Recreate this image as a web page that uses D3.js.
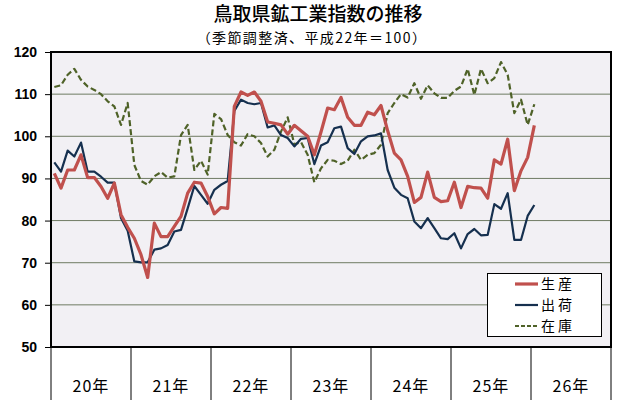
<!DOCTYPE html>
<html>
<head>
<meta charset="utf-8">
<script src="https://cdn.jsdelivr.net/npm/d3@7"></script>
<style>
  html, body { margin: 0; padding: 0; background: #ffffff; }
  svg { display: block; }
</style>
</head>
<body>
<svg id="chart" width="630" height="400"></svg>
<script>
// ---- data ----
const title = "鳥取県鉱工業指数の推移";
const subtitle = "（季節調整済、平成22年＝100）";
const years = ["20年", "21年", "22年", "23年", "24年", "25年", "26年"];
const yTicks = [50, 60, 70, 80, 90, 100, 110, 120];
const seriesNames = ["生産", "出荷", "在庫"];

// monthly values, Jan 20年 .. Jan 26年
const production = [
  91.2, 87.7, 92.0, 92.0, 95.6, 90.2, 90.2, 88.1, 85.3, 88.9, 81.4, 78.4,
  75.8, 71.9, 66.5, 79.4, 76.2, 76.2, 78.6, 81.0, 86.5, 89.1, 88.9, 85.7,
  81.6, 83.1, 82.9, 107.1, 110.5, 109.7, 110.5, 108.3, 103.4, 103.1, 102.7, 100.5,
  102.6, 101.3, 100.0, 95.6, 101.0, 106.7, 106.3, 109.2, 104.5, 102.6, 102.6, 105.7,
  105.1, 107.3, 101.3, 96.0, 94.4, 90.5, 84.3, 85.5, 91.5, 85.5, 84.5, 84.7,
  89.1, 83.1, 88.1, 87.8, 87.7, 85.3, 94.4, 93.4, 99.3, 87.1, 91.8, 95.0,
  102.6
];
const shipments = [
  93.8, 91.6, 96.6, 95.2, 98.5, 91.6, 91.6, 90.4, 89.0, 89.0, 80.6, 77.6,
  70.3, 70.1, 70.1, 73.1, 73.4, 74.2, 77.4, 77.8, 82.9, 88.2, 86.1, 84.0,
  87.3, 88.5, 89.4, 106.0, 108.7, 107.9, 107.6, 107.9, 102.1, 102.6, 100.3, 99.6,
  97.6, 99.4, 99.6, 93.4, 97.8, 98.6, 101.9, 102.3, 97.2, 95.8, 98.8, 100.0,
  100.2, 100.7, 92.0, 87.8, 86.1, 85.3, 79.8, 78.2, 80.6, 78.2, 75.8, 75.6,
  77.0, 73.4, 76.8, 78.0, 76.5, 76.6, 83.9, 82.8, 86.5, 75.4, 75.4, 81.1,
  83.7
];
const inventory = [
  111.7, 112.1, 114.6, 116.0, 113.4, 111.8, 111.0, 110.0, 108.3, 107.1, 102.7, 107.9,
  93.2, 89.4, 88.5, 90.5, 91.5, 90.2, 90.5, 100.3, 102.7, 92.0, 94.2, 90.9,
  105.3, 104.1, 100.3, 98.6, 97.8, 100.5, 100.0, 98.4, 95.2, 96.8, 101.1, 104.5,
  98.1, 98.6, 95.6, 89.1, 92.4, 94.4, 94.2, 93.4, 94.2, 96.8, 94.4, 95.6,
  96.0, 98.0, 105.5, 107.9, 110.0, 109.2, 112.6, 108.9, 112.1, 110.2, 109.1, 109.1,
  110.8, 111.8, 116.0, 109.8, 116.0, 112.6, 113.8, 117.6, 114.6, 105.5, 108.7, 102.7,
  107.6
];

// ---- layout ----
const svg = d3.select("#chart");
const L = 51, R = 611, T = 52, B = 347;
const jpFont = "'Noto Sans CJK JP', 'Noto Sans', sans-serif";

// month categories (12 per year label)
const months = [];
years.forEach(y => { for (let m = 1; m <= 12; m++) months.push(y + m + "月"); });

const x = d3.scaleBand().domain(months).range([L, R]).padding(0);
const xYear = d3.scaleBand().domain(years).range([L, R]).padding(0);
const y = d3.scaleLinear().domain([50, 120]).range([B, T]);
const cx = i => x(months[i]) + x.bandwidth() / 2;

// plot background
svg.append("rect").attr("x", L).attr("y", T).attr("width", R - L).attr("height", B - T)
  .attr("fill", "#f2f0f4");

// gridlines
svg.append("g").selectAll("line").data(yTicks.filter(v => v > 50 && v < 120)).join("line")
  .attr("x1", L).attr("x2", R)
  .attr("y1", d => y(d)).attr("y2", d => y(d))
  .attr("stroke", "#6f7b63").attr("stroke-width", 1);

// y axis
const yAxis = d3.axisLeft(y).tickValues(yTicks).tickSize(6).tickPadding(8).tickFormat(d3.format("d"));
const gy = svg.append("g").attr("transform", `translate(${L},0)`).call(yAxis);
gy.select(".domain").remove();
gy.selectAll(".tick line").attr("stroke", "#000").attr("stroke-width", 1);
gy.selectAll(".tick text").attr("fill", "#000")
  .attr("font-family", "'Liberation Sans', Arial, sans-serif")
  .attr("font-weight", "bold").attr("font-size", 14);

// x axis: year groups with dividers
const gx = svg.append("g");
const boundaries = years.map(d => xYear(d)).concat([R]);
gx.selectAll("line").data(boundaries).join("line")
  .attr("x1", d => d).attr("x2", d => d).attr("y1", B).attr("y2", 400)
  .attr("stroke", "#000").attr("stroke-width", 1);
gx.selectAll("text").data(years).join("text")
  .attr("x", d => xYear(d) + xYear.bandwidth() / 2).attr("y", 392)
  .attr("text-anchor", "middle")
  .attr("font-family", jpFont).attr("font-size", 16).attr("letter-spacing", 1)
  .attr("fill", "#000").text(d => d);

// lines
const seriesData = [
  { name: seriesNames[0], values: production, color: "#c0504d", width: 3.2, dash: null },
  { name: seriesNames[1], values: shipments, color: "#16304f", width: 2.2, dash: null },
  { name: seriesNames[2], values: inventory, color: "#4f6228", width: 2.2, dash: "6,3" }
];
const line = d3.line().x((d, i) => cx(i)).y(d => y(d));
svg.append("g").selectAll("path").data(seriesData.slice().reverse()).join("path")
  .attr("d", d => line(d.values))
  .attr("fill", "none")
  .attr("stroke", d => d.color)
  .attr("stroke-width", d => d.width)
  .attr("stroke-dasharray", d => d.dash)
  .attr("stroke-linejoin", "round");

// plot border
svg.append("rect").attr("x", L).attr("y", T).attr("width", R - L).attr("height", B - T)
  .attr("fill", "none").attr("stroke", "#000").attr("stroke-width", 2);

// legend
const lg = svg.append("g");
lg.append("rect").attr("x", 487.5).attr("y", 273.5).attr("width", 114).attr("height", 63)
  .attr("fill", "#fff").attr("stroke", "#000").attr("stroke-width", 1);
const rows = lg.selectAll("g.row").data(seriesData).join("g")
  .attr("transform", (d, i) => `translate(0,${284 + i * 21})`);
rows.append("line").attr("x1", 515).attr("x2", 538).attr("y1", 0).attr("y2", 0)
  .attr("stroke", d => d.color).attr("stroke-width", d => d.width)
  .attr("stroke-dasharray", d => d.dash ? "4,2" : null);
rows.append("text").attr("x", 541).attr("y", 0).attr("dy", "0.35em")
  .attr("font-family", jpFont).attr("font-size", 14).attr("letter-spacing", 3)
  .attr("fill", "#000").text(d => d.name);

// titles
svg.append("text").attr("x", 318).attr("y", 21).attr("text-anchor", "middle")
  .attr("font-family", jpFont).attr("font-size", 19).attr("font-weight", 500)
  .attr("fill", "#000").text(title);
svg.append("text").attr("x", 312).attr("y", 43).attr("text-anchor", "middle")
  .attr("font-family", jpFont).attr("font-size", 14).attr("letter-spacing", 1.4)
  .attr("fill", "#000").text(subtitle);
</script>
</body>
</html>
